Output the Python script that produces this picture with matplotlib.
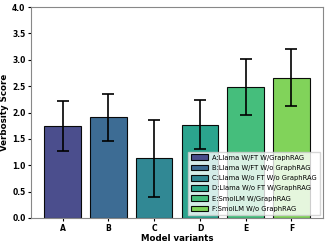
import numpy as np
import matplotlib.pyplot as plt

categories = ['A', 'B', 'C', 'D', 'E', 'F']
scores = [1.74, 1.91, 1.13, 1.77, 2.48, 2.66]
errors = [0.47, 0.45, 0.73, 0.46, 0.53, 0.54]
labels = ['A:Llama W/FT W/GraphRAG', 'B:Llama W/FT W/o GraphRAG',
          'C:Llama W/o FT W/o GraphRAG', 'D:Llama W/o FT W/GraphRAG',
          'E:SmolLM W/GraphRAG', 'F:SmolLM W/o GraphRAG']

colors = plt.cm.viridis(np.linspace(0.2, 0.8, len(categories)))

fig = plt.figure(figsize=(3.27, 2.43), dpi=100)
ax = fig.add_axes([0.095, 0.103, 0.893, 0.868])

bars = ax.bar(categories, scores, yerr=errors, color=colors, edgecolor='black',
              linewidth=0.8, capsize=4, error_kw={'elinewidth': 1.2, 'capthick': 1.2},
              width=0.8, alpha=0.95)

ax.set_ylim(0, 4.0)
ax.set_xlabel('Model variants', fontsize=6.2, fontweight='bold', labelpad=1)
ax.set_ylabel('Verbosity Score', fontsize=6.2, fontweight='bold', labelpad=2)
ax.tick_params(labelsize=5.5, length=2, pad=2)
for t in ax.get_xticklabels() + ax.get_yticklabels():
    t.set_fontweight('bold')
for s in ax.spines.values():
    s.set_color('#888888')

ax.legend(bars, labels, loc='lower right', fontsize=4.9, framealpha=0.8,
          handlelength=2.5, handleheight=0.9, labelspacing=0.6, borderpad=0.4,
          handletextpad=0.6, fancybox=False)

plt.savefig('out.png', dpi=100)
plt.close()
